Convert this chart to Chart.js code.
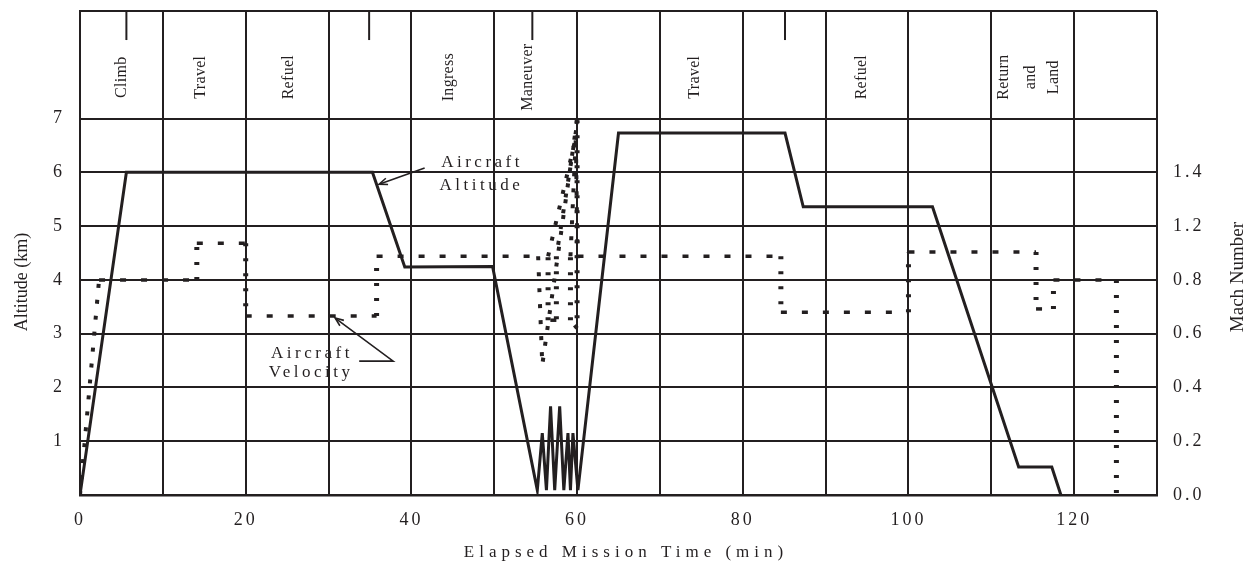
<!DOCTYPE html>
<html>
<head>
<meta charset="utf-8">
<script src="https://cdn.jsdelivr.net/npm/chart.js@4.4.0/dist/chart.umd.min.js"></script>
<style>
  html, body { margin: 0; padding: 0; background: #fff; }
  #wrap { width: 1252px; height: 567px; position: relative; }
</style>
</head>
<body>
<div id="wrap"><canvas id="missionChart"></canvas></div>
<script>
const INK = '#231f20';
const SERIF = '"Liberation Serif", "Times New Roman", serif';

// Altitude profile (km) against elapsed time (min)
const altitudeTime = [0, 5.6, 35.3, 39.2, 49.8, 55.2, 55.8, 56.3, 56.8, 57.3, 57.9, 58.4, 58.9, 59.2, 59.5, 60.1, 65.0, 85.1, 87.3, 102.9, 113.3, 117.3, 118.4];
const altitudeKm   = [0, 6.0, 6.0, 4.24, 4.25, 0.09, 1.15, 0.09, 1.65, 0.09, 1.65, 0.09, 1.15, 0.09, 1.15, 0.09, 6.73, 6.73, 5.36, 5.36, 0.52, 0.52, 0];

// Velocity profile (Mach) against elapsed time (min)
const velocityTime = [0, 2.3, 14.1, 14.1, 20.0, 20.0, 35.8, 35.8, 55.3,
    55.8, 60.0, 60.0, 59.2, 59.2, 59.9, 57.5, 57.5, 56.5, 56.5, 59.85, 60.05,
    84.6, 84.6, 100.0, 100.0, 115.4, 115.4, 117.5, 117.5, 125.1, 125.1];
const velocityMach = [0, 0.80, 0.80, 0.936, 0.936, 0.666, 0.666, 0.888, 0.888,
    0.484, 1.394, 0.62, 0.65, 0.888, 1.36, 0.888, 0.65, 0.65, 0.888, 1.33, 0.888,
    0.888, 0.68, 0.68, 0.904, 0.904, 0.692, 0.692, 0.80, 0.80, 0];

// Tick labels
const xTickLabels = ['0', '20', '40', '60', '80', '100', '120'];
const altTickLabels = ['1', '2', '3', '4', '5', '6', '7'];
const machTickLabels = ['0.0', '0.2', '0.4', '0.6', '0.8', '1.2', '1.4'];

// Mission phases written in the top band
const phaseNames = ['Climb', 'Travel', 'Refuel', 'Ingress', 'Maneuver', 'Travel', 'Refuel', 'Return', 'and', 'Land'];
const phaseTime  = [5.1, 14.6, 25.2, 44.5, 54.0, 74.2, 94.4, 111.5, 114.8, 117.6];
const phaseMarks = [5.6, 34.9, 54.6, 85.1];

function arrowHead(ctx, x1, y1, x2, y2) {
    const a = Math.atan2(y2 - y1, x2 - x1);
    const L = 9, w = 0.38;
    ctx.beginPath();
    ctx.moveTo(x2 - L * Math.cos(a - w), y2 - L * Math.sin(a - w));
    ctx.lineTo(x2, y2);
    ctx.lineTo(x2 - L * Math.cos(a + w), y2 - L * Math.sin(a + w));
    ctx.stroke();
}

// Textos, marcas das fases e setas de anotação
const overlayPlugin = {
    id: 'overlay',
    beforeDraw(chart) {
        chart.ctx.letterSpacing = '3px'; // tick labels are spaced out in the original
    },
    afterDraw(chart) {
        const { ctx, scales: { x, y } } = chart;
        const px = v => x.getPixelForValue(v);
        const py = v => y.getPixelForValue(v);
        ctx.save();
        ctx.fillStyle = INK;
        ctx.strokeStyle = INK;

        // short marks hanging from the top border
        ctx.lineWidth = 2;
        phaseMarks.forEach(t => {
            ctx.beginPath();
            ctx.moveTo(px(t), py(9));
            ctx.lineTo(px(t), py(8.46));
            ctx.stroke();
        });

        // phase names, rotated
        ctx.letterSpacing = '0.3px';
        ctx.font = '16px ' + SERIF;
        ctx.textAlign = 'center';
        ctx.textBaseline = 'middle';
        phaseNames.forEach((name, i) => {
            ctx.save();
            ctx.translate(px(phaseTime[i]), py(7.77));
            ctx.rotate(-Math.PI / 2);
            ctx.fillText(name, 0, 0);
            ctx.restore();
        });

        // "Aircraft Altitude" callout
        ctx.font = '17px ' + SERIF;
        ctx.letterSpacing = '3.5px';
        ctx.textAlign = 'left';
        ctx.textBaseline = 'alphabetic';
        ctx.fillText('Aircraft', px(43.6), py(6.10));
        ctx.fillText('Altitude', px(43.4), py(5.67));
        ctx.lineWidth = 1.6;
        ctx.beginPath();
        ctx.moveTo(px(41.6), py(6.08));
        ctx.lineTo(px(36.1), py(5.78));
        ctx.stroke();
        arrowHead(ctx, px(41.6), py(6.08), px(36.1), py(5.78));

        // "Aircraft Velocity" callout
        ctx.textAlign = 'center';
        ctx.fillText('Aircraft', px(28.0), py(2.55));
        ctx.fillText('Velocity', px(27.9), py(2.19));
        ctx.beginPath();
        ctx.moveTo(px(33.7), py(2.49));
        ctx.lineTo(px(37.8), py(2.49));
        ctx.lineTo(px(30.8), py(3.29));
        ctx.stroke();
        arrowHead(ctx, px(37.8), py(2.49), px(30.8), py(3.29));

        // axis titles
        ctx.letterSpacing = '0px';
        ctx.textBaseline = 'middle';
        ctx.font = '18px ' + SERIF;
        ctx.save();
        ctx.translate(22, 282);
        ctx.rotate(-Math.PI / 2);
        ctx.fillText('Altitude (km)', 0, 0);
        ctx.restore();

        ctx.font = '19px ' + SERIF;
        ctx.save();
        ctx.translate(1238, 277);
        ctx.rotate(-Math.PI / 2);
        ctx.fillText('Mach Number', 0, 0);
        ctx.restore();

        ctx.font = '17px ' + SERIF;
        ctx.letterSpacing = '5px';
        ctx.fillText('Elapsed Mission Time (min)', 626, 553);
        ctx.restore();
    }
};

function segStyle(c, horiz, vert, diag) {
    const dx = Math.abs(c.p0.x - c.p1.x), dy = Math.abs(c.p0.y - c.p1.y);
    if (dy < 0.5) return horiz;
    if (dx < 0.5) return vert;
    return diag;
}

// tira o padding extra que o Chart.js reserva para os rótulos
function noPad(s) {
    s.paddingTop = 0;
    s.paddingBottom = 0;
    s.paddingLeft = 0;
    s.paddingRight = 0;
}

const ctx = document.getElementById('missionChart').getContext('2d');
new Chart(ctx, {
    type: 'line',
    data: {
        datasets: [{
            label: 'Aircraft Altitude',
            data: altitudeTime.map((t, i) => ({ x: t, y: altitudeKm[i] })),
            yAxisID: 'y',
            borderColor: INK,
            borderWidth: 3,
            pointRadius: 0,
            tension: 0,
            fill: false
        }, {
            label: 'Aircraft Velocity',
            data: velocityTime.map((t, i) => ({ x: t, y: velocityMach[i] })),
            yAxisID: 'y2',
            borderColor: INK,
            borderWidth: 4,
            borderDash: [4, 11], // also keeps Chart.js off its fast path, which doubles vertical runs
            borderCapStyle: 'butt',
            pointRadius: 0,
            tension: 0,
            fill: false,
            segment: {
                borderDash: c => segStyle(c, [6, 15], [3, 12], [4, 12]),
                borderWidth: c => segStyle(c, 3.5, 5, 4)
            }
        }]
    },
    options: {
        responsive: true,
        maintainAspectRatio: false,
        animation: false,
        layout: { padding: { top: 11, left: 0, right: 0, bottom: 0 } },
        plugins: {
            legend: { display: false },
            tooltip: { enabled: false }
        },
        scales: {
            x: {
                type: 'linear',
                min: 0,
                max: 130,
                afterFit: s => { noPad(s); s.height = 72; },
                grid: { color: INK, lineWidth: 2, drawTicks: false },
                border: { display: true, color: INK, width: 2.5 },
                ticks: {
                    stepSize: 10,
                    padding: 14,
                    color: INK,
                    font: { family: SERIF, size: 18 },
                    maxRotation: 0,
                    autoSkip: false,
                    callback: v => (v % 20 === 0 && xTickLabels[v / 20] !== undefined) ? xTickLabels[v / 20] : ''
                }
            },
            y: {
                position: 'left',
                min: 0,
                max: 9,
                afterFit: s => { noPad(s); s.width = 80; },
                grid: {
                    color: c => (c.tick && c.tick.value === 8) ? 'rgba(0,0,0,0)' : INK,
                    lineWidth: 2,
                    drawTicks: false
                },
                border: { display: true, color: INK, width: 2 },
                ticks: {
                    stepSize: 1,
                    padding: 15,
                    color: INK,
                    font: { family: SERIF, size: 18 },
                    autoSkip: false,
                    callback: v => (v >= 1 && v <= 7) ? altTickLabels[v - 1] : ''
                }
            },
            y2: {
                position: 'right',
                min: 0,
                max: 1.8,
                afterFit: s => { noPad(s); s.width = 95; },
                grid: { display: false, drawTicks: false },
                border: { display: false },
                ticks: {
                    stepSize: 0.2,
                    padding: 16,
                    color: INK,
                    font: { family: SERIF, size: 18 },
                    autoSkip: false,
                    callback: (v, i) => machTickLabels[i] !== undefined ? machTickLabels[i] : ''
                }
            }
        }
    },
    plugins: [overlayPlugin]
});
</script>
</body>
</html>
